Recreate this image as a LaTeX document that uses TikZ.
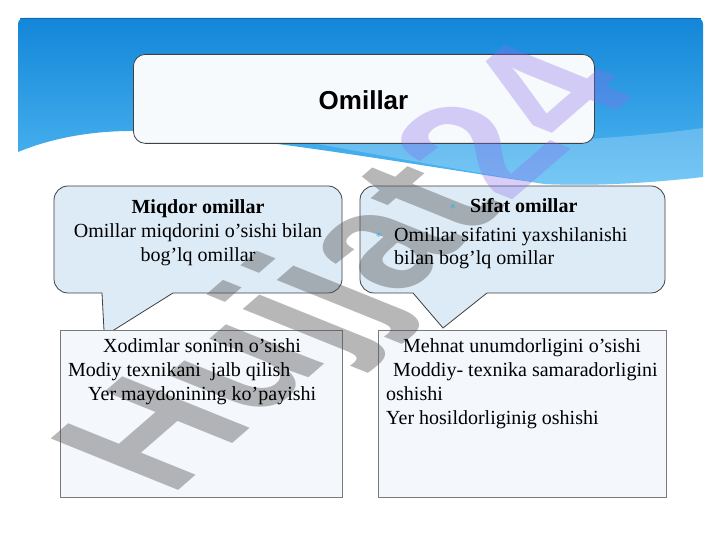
\documentclass[tikz,border=0pt]{standalone}
\usepackage{fontspec}
\setmainfont{Liberation Serif}
\newfontfamily\titlefont{Liberation Sans}
\newfontfamily\symfont{DejaVu Sans}
\definecolor{bluetop}{HTML}{1386D8}
\definecolor{bluebot}{HTML}{50B8F2}
\definecolor{blueedge}{HTML}{0C6DB6}
\definecolor{calloutfill}{HTML}{DDEBF7}
\definecolor{boxfill}{HTML}{F4F8FD}
\definecolor{titlefill}{HTML}{F7FAFD}
\definecolor{bulletcol}{HTML}{4BB3D6}
\definecolor{wmgray}{HTML}{555555}
\definecolor{wmpurple}{HTML}{896DEA}
\begin{document}
\begin{tikzpicture}[x=1pt,y=1pt,
  calloutshape/.style={draw=black!75, line width=0.8pt, fill=calloutfill},
  lowerbox/.style={draw=black!52, line width=1.1pt, fill=boxfill, inner sep=0pt},
  titlebox/.style={draw=black!75, line width=0.8pt, fill=titlefill, rounded corners=12pt, inner sep=0pt},
  txt/.style={font=\fontsize{20}{24}\selectfont, inner sep=0pt, text=black},
  btxt/.style={font=\fontsize{20}{24}\selectfont\bfseries, inner sep=0pt, text=black},
  bul/.style={font=\symfont\fontsize{9}{9}\selectfont, text=bulletcol, inner sep=0pt},
  wm/.style={font=\titlefont\bfseries\fontsize{155}{155}\selectfont, inner sep=0pt, transform shape, anchor=base west}
]
\useasboundingbox (0,0) rectangle (720,540);
\fill[white] (0,0) rectangle (720,540);
% blue header with swoosh
\shade[top color=bluetop, bottom color=bluebot]
  (18,388) -- (18,516) arc(180:90:6) -- (697,522) arc(90:0:6) -- (703,363)
  .. controls (640,356) and (590,354) .. (545,356)
  .. controls (420,374) and (250,405) .. (140,409)
  .. controls (80,410) and (40,397) .. (18,388) -- cycle;
% lighter wave band
\fill[white, opacity=0.22]
  (703,412) .. controls (600,398) and (450,392) .. (300,399)
  .. controls (380,385) and (460,370) .. (545,356)
  .. controls (590,354) and (640,356) .. (703,363) -- cycle;
\draw[blueedge, line width=1.2pt] (20,521.4) -- (701,521.4);
% title
\node[titlebox, minimum width=461pt, minimum height=89pt, anchor=north west] (title) at (133,486) {};
% callouts
\path[calloutshape] (102,247) -- (104.3,204) -- (173,247) -- (328,247) arc(270:360:14)
  -- (342,340) arc(0:90:14) -- (68,354) arc(90:180:14) -- (54,261) arc(180:270:14) -- cycle;
\path[calloutshape] (413,247) -- (443,212) -- (487,247) -- (651,247) arc(270:360:14)
  -- (665,340) arc(0:90:14) -- (374,354) arc(90:180:14) -- (360,261) arc(180:270:14) -- cycle;
% lower boxes
\node[lowerbox, minimum width=282pt, minimum height=167pt, anchor=north west] (lbox) at (60,210) {};
\node[lowerbox, minimum width=288pt, minimum height=167pt, anchor=north west] (rbox) at (378,210) {};
% watermark (slanted)
\begin{scope}[cm={0.785,0.682,-1.196,0.483,(170,42)}]
\node[wm, text=wmgray, text opacity=0.42] (wma) at (0,0) {Hujjat};
\node[wm, text=wmpurple, text opacity=0.33] (wmb) at (wma.base east) {24};
\end{scope}
% texts
\node[font=\titlefont\bfseries\fontsize{26}{30}\selectfont, inner sep=0pt, anchor=base] (ttl) at (363.5,430) {Omillar};
\node[btxt, anchor=base] (c1a) at (198,326) {Miqdor omillar};
\node[txt, anchor=base] (c1b) at (198,302) {Omillar miqdorini o’sishi bilan};
\node[txt, anchor=base] (c1c) at (198,278) {bog’lq omillar};
\node[bul] (b1) at (453,333) {∗};
\node[btxt, anchor=base west] (c2a) at (470,327) {Sifat omillar};
\node[bul] (b2) at (379,305) {∗};
\node[txt, anchor=base west] (c2b) at (394,298) {Omillar sifatini yaxshilanishi};
\node[txt, anchor=base west] (c2c) at (394,275) {bilan bog’lq omillar};
\node[txt, anchor=base west] (l1) at (103,187) {Xodimlar soninin o’sishi};
\node[txt, anchor=base west] (l2) at (68,163) {Modiy texnikani\ \ jalb qilish};
\node[txt, anchor=base west] (l3) at (88,139) {Yer maydonining ko’payishi};
\node[txt, anchor=base west] (r1) at (403,187) {Mehnat unumdorligini o’sishi};
\node[txt, anchor=base west] (r2) at (393,163) {Moddiy- texnika samaradorligini};
\node[txt, anchor=base west] (r3) at (386,139) {oshishi};
\node[txt, anchor=base west] (r4) at (386,115) {Yer hosildorliginig oshishi};
\end{tikzpicture}
\end{document}
